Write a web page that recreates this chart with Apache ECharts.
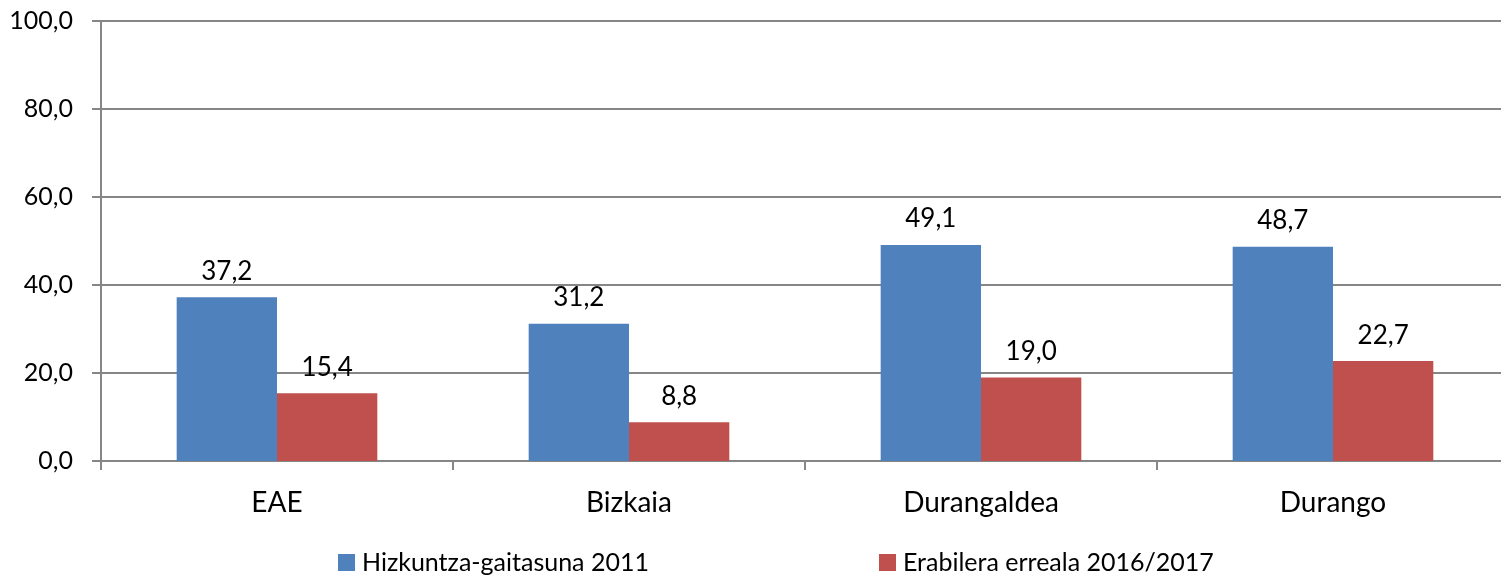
<!DOCTYPE html>
<html>
<head>
<meta charset="utf-8">
<script src="https://cdn.jsdelivr.net/npm/echarts@6/dist/echarts.min.js"></script>
<style>
html,body{margin:0;padding:0;background:#fff;overflow:hidden;width:1501px;height:577px;}
#c{width:1509px;height:577px;}
</style>
</head>
<body>
<div id="c"></div>
<script>
const categories = ['EAE', 'Bizkaia', 'Durangaldea', 'Durango'];
const seriesNames = ['Hizkuntza-gaitasuna 2011', 'Erabilera erreala 2016/2017'];
const capacity2011 = [37.2, 31.2, 49.1, 48.7];
const realUse2016 = [15.4, 8.8, 19.0, 22.7];
const colors = ['#4F81BD', '#C0504D'];

const FONT = 'Lato, "Open Sans", sans-serif';
const fmt = v => v.toFixed(1).replace('.', ',');

const chart = echarts.init(document.getElementById('c'), null, {renderer: 'canvas'});
const labelCfg = {
  show: true, position: 'top', distance: 13,
  fontFamily: FONT, fontSize: 26, color: '#000',
  formatter: p => fmt(p.value)
};
const legendText = {fontFamily: FONT, fontSize: 25, color: '#000', padding: [0, 0, 0, 2]};
chart.setOption({
  animation: false,
  backgroundColor: '#fff',
  color: colors,
  grid: {left: 101, top: 21, right: 0, height: 440, containLabel: false},
  legend: [
    {data: [seriesNames[0]], left: 338, top: 550, padding: 0, itemWidth: 17, itemHeight: 17, itemGap: 0,
     icon: 'rect', textStyle: legendText},
    {data: [seriesNames[1]], left: 879, top: 550, padding: 0, itemWidth: 17, itemHeight: 17, itemGap: 0,
     icon: 'rect', textStyle: legendText}
  ],
  xAxis: {
    type: 'category', data: categories,
    axisLine: {lineStyle: {color: '#868686', width: 2}},
    axisTick: {show: true, length: 9, lineStyle: {color: '#868686', width: 2}},
    axisLabel: {fontFamily: FONT, fontSize: 28, color: '#000', margin: 28}
  },
  yAxis: {
    type: 'value', min: 0, max: 100, interval: 20,
    axisLine: {show: true, lineStyle: {color: '#868686', width: 2}},
    axisTick: {show: true, length: 9, lineStyle: {color: '#868686', width: 2}},
    splitLine: {lineStyle: {color: '#868686', width: 2}},
    axisLabel: {fontFamily: FONT, fontSize: 25, color: '#000', margin: 28, formatter: v => fmt(v)}
  },
  series: [
    {name: seriesNames[0], type: 'bar', data: capacity2011, barGap: '0%', barCategoryGap: '43%', label: labelCfg},
    {name: seriesNames[1], type: 'bar', data: realUse2016, barGap: '0%', barCategoryGap: '43%', label: labelCfg}
  ]
});
</script>
</body>
</html>
